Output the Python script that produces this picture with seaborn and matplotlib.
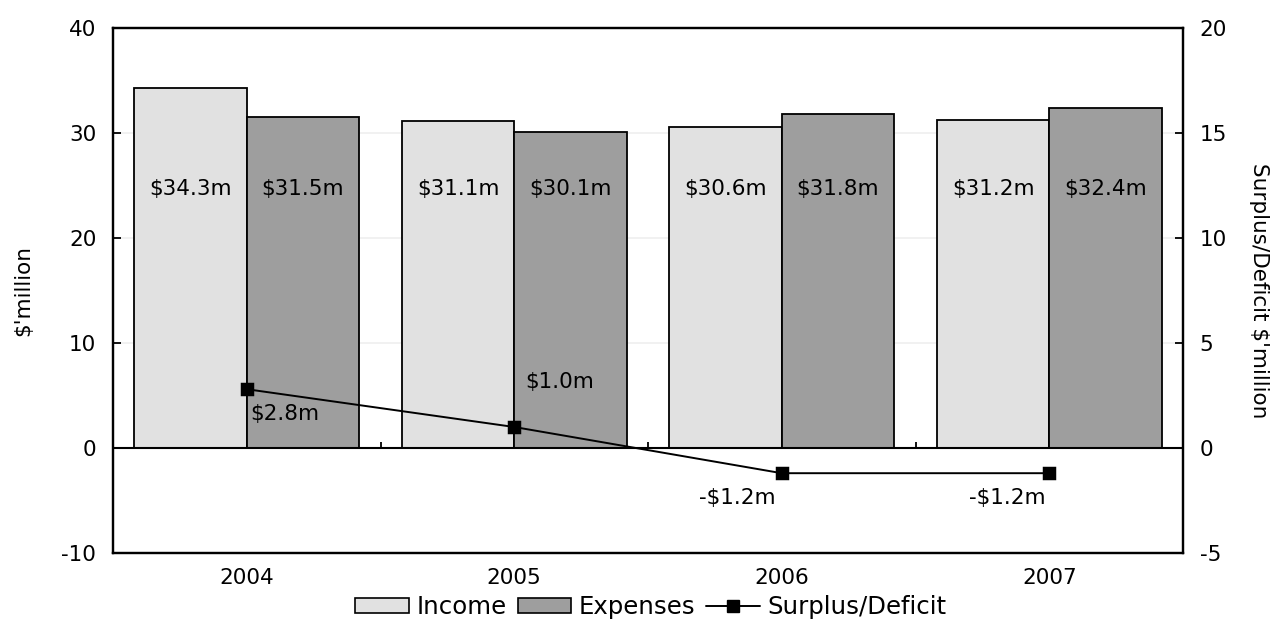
import matplotlib
matplotlib.use("Agg")
import matplotlib.pyplot as plt
from matplotlib.patches import Patch
from matplotlib.lines import Line2D
import seaborn as sns
import pandas as pd

years = ["2004", "2005", "2006", "2007"]
income = [34.3, 31.1, 30.6, 31.2]
expenses = [31.5, 30.1, 31.8, 32.4]
surplus = [2.8, 1.0, -1.2, -1.2]

income_color = "#e1e1e1"
expense_color = "#9e9e9e"

sns.set_theme(style="white")
plt.rcParams["font.family"] = ["DejaVu Sans"]
plt.rcParams["axes.unicode_minus"] = False
for key in ("text.color", "axes.labelcolor", "xtick.color", "ytick.color"):
    plt.rcParams[key] = "black"
FS = 15.5

df = pd.DataFrame({
    "Year": years * 2,
    "Value": income + expenses,
    "Series": ["Income"] * len(years) + ["Expenses"] * len(years),
})

fig = plt.figure(figsize=(12.75, 6.26), dpi=100)
ax = fig.add_axes([113 / 1275, 1 - 553 / 626, (1183 - 113) / 1275, (553 - 28) / 626])

ax.yaxis.grid(True, color="#efefef", linewidth=1.2)
ax.set_axisbelow(True)

sns.barplot(data=df, x="Year", y="Value", hue="Series", order=years,
            hue_order=["Income", "Expenses"],
            palette=[income_color, expense_color], width=0.84,
            edgecolor="black", linewidth=1.3, saturation=1, legend=False, ax=ax)

ax.set_ylim(-10, 40)
ax.set_xlim(-0.5, len(years) - 0.5)
ax.set_yticks(range(-10, 41, 10))
ax.set_xlabel("")
ax.set_ylabel("$'million", fontsize=FS, labelpad=20)
ax.tick_params(axis="y", direction="in", length=6, width=1.3, labelsize=FS, pad=12)
ax.tick_params(axis="x", length=0, labelsize=FS, pad=11)
for s in ax.spines.values():
    s.set_color("black")
    s.set_linewidth(1.6)

# category axis crossing at zero, with tick marks between categories
ax.axhline(0, color="black", linewidth=1.5, zorder=3)
ax.vlines([i + 0.5 for i in range(len(years) - 1)], 0, 0.6, color="black", linewidth=1.3, zorder=3)

# value labels inside the bars
label_y = 24.7
for cont, vals in zip(ax.containers, [income, expenses]):
    for bar, v in zip(cont, vals):
        ax.text(bar.get_x() + bar.get_width() / 2, label_y, f"${v:.1f}m",
                ha="center", va="center", fontsize=FS, color="black", zorder=4)

ax2 = ax.twinx()
sns.pointplot(x=years, y=surplus, order=years, color="black", markers="s",
              markersize=8, linewidth=1.4, errorbar=None, ax=ax2)
ax2.set_ylim(-5, 20)
ax2.set_xlim(-0.5, len(years) - 0.5)
ax2.set_yticks(range(-5, 21, 5))
ax2.set_ylabel("Surplus/Deficit $'million", fontsize=FS, rotation=270, labelpad=30)
ax2.tick_params(axis="y", direction="in", length=6, width=1.3, labelsize=FS, pad=12)
for s in ax2.spines.values():
    s.set_color("black")
    s.set_linewidth(1.6)

# (dx, dy) in pixels and horizontal alignment for each surplus label
placements = [((3, -25), "left"), ((11, 45), "left"), ((-6, -25), "right"), ((-4, -25), "right")]
for i, (v, (off, ha)) in enumerate(zip(surplus, placements)):
    txt = f"${v:.1f}m" if v >= 0 else f"-${abs(v):.1f}m"
    ax2.annotate(txt, (i, v), xytext=off, textcoords="offset pixels",
                 ha=ha, va="center", fontsize=FS, color="black")

LFS = 17.6
handles = [
    Patch(facecolor=income_color, edgecolor="black", linewidth=1.2, label="Income"),
    Patch(facecolor=expense_color, edgecolor="black", linewidth=1.2, label="Expenses"),
    Line2D([0], [0], color="black", marker="s", markersize=8, linewidth=1.4, label="Surplus/Deficit"),
]
fig.legend(handles=handles, loc="center", bbox_to_anchor=(651 / 1275, 1 - 607 / 626), ncol=3,
           frameon=False, fontsize=LFS, handlelength=2.2, handleheight=0.55,
           handletextpad=0.3, columnspacing=0.45, borderpad=0)

fig.savefig("out.png", dpi=100)
